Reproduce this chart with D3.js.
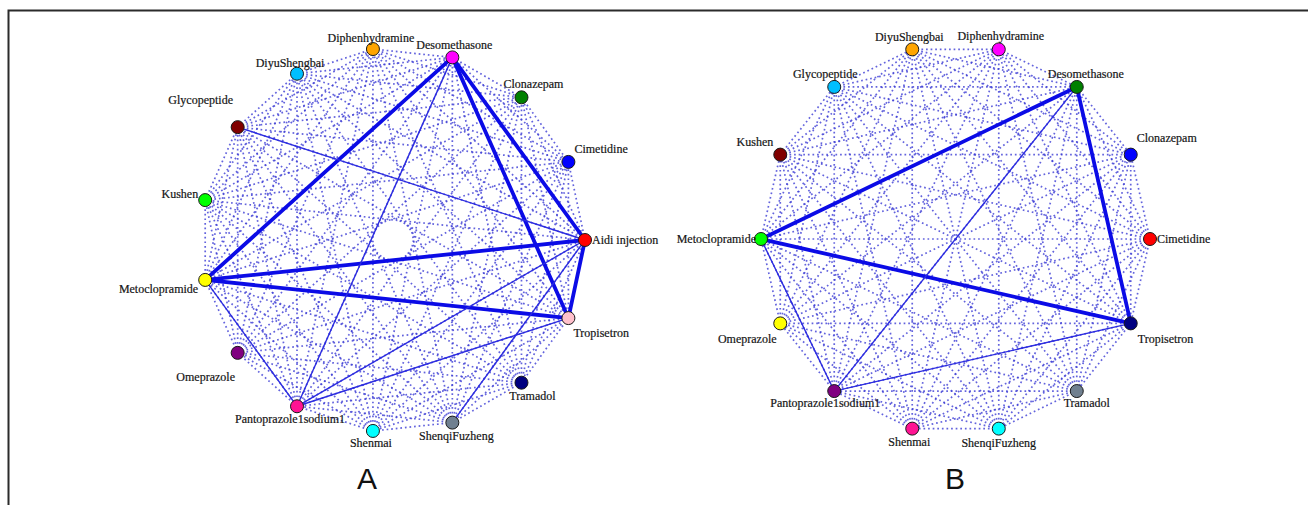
<!DOCTYPE html>
<html>
<head>
<meta charset="utf-8">
<script src="https://cdn.jsdelivr.net/npm/d3@7"></script>
<style>
  html, body { margin: 0; padding: 0; background: #fff; }
  svg { display: block; }
</style>
</head>
<body>
<svg id="chart" width="1308" height="505"></svg>
<script>
// ---------- Network A: drugs placed clockwise, starting at the right ----------
const nodesA = ["Aidi injection", "Tropisetron", "Tramadol", "ShenqiFuzheng", "Shenmai",
  "Pantoprazole1sodium1", "Omeprazole", "Metoclopramide", "Kushen", "Glycopeptide",
  "DiyuShengbai", "Diphenhydramine", "Desomethasone", "Clonazepam", "Cimetidine"];
const colorsA = ["#ff0000", "#ffc0cb", "#000080", "#708090", "#00ffff",
  "#ff1493", "#800080", "#ffff00", "#00ff00", "#800000",
  "#00bfff", "#ffa500", "#ff00ff", "#008000", "#0000ff"];
// strong associations: [drug, drug, weight]
const linksA = [
  ["Desomethasone", "Metoclopramide", 3],
  ["Desomethasone", "Aidi injection", 3],
  ["Desomethasone", "Tropisetron", 3],
  ["Metoclopramide", "Aidi injection", 3],
  ["Metoclopramide", "Tropisetron", 3],
  ["Aidi injection", "Tropisetron", 3],
  ["Desomethasone", "Pantoprazole1sodium1", 1],
  ["Glycopeptide", "Aidi injection", 1],
  ["Metoclopramide", "Pantoprazole1sodium1", 1],
  ["Pantoprazole1sodium1", "Aidi injection", 1],
  ["Pantoprazole1sodium1", "Tropisetron", 1],
  ["ShenqiFuzheng", "Aidi injection", 1]
];

// ---------- Network B ----------
const nodesB = ["Cimetidine", "Tropisetron", "Tramadol", "ShenqiFuzheng", "Shenmai",
  "Pantoprazole1sodium1", "Omeprazole", "Metoclopramide", "Kushen", "Glycopeptide",
  "DiyuShengbai", "Diphenhydramine", "Desomethasone", "Clonazepam"];
const colorsB = ["#ff0000", "#000080", "#708090", "#00ffff", "#ff1493",
  "#800080", "#ffff00", "#00ff00", "#800000", "#00bfff",
  "#ffa500", "#ff00ff", "#008000", "#0000ff"];
const linksB = [
  ["Desomethasone", "Metoclopramide", 3],
  ["Desomethasone", "Tropisetron", 3],
  ["Metoclopramide", "Tropisetron", 3],
  ["Desomethasone", "Pantoprazole1sodium1", 1],
  ["Metoclopramide", "Pantoprazole1sodium1", 1],
  ["Pantoprazole1sodium1", "Tropisetron", 1]
];

const panelTitles = ["A", "B"];

// ---------- layout ----------
// label placement relative to each node: [dx, dy, anchor]
const labelPlaceA = {
  "Aidi injection": [7, 4, "start"],
  "Tropisetron": [5, 19, "start"],
  "Tramadol": [11, 17, "middle"],
  "ShenqiFuzheng": [4, 17, "middle"],
  "Shenmai": [-2, 16, "middle"],
  "Pantoprazole1sodium1": [-7, 17, "middle"],
  "Omeprazole": [-32, 28, "middle"],
  "Metoclopramide": [-7, 13, "end"],
  "Kushen": [-7, -2, "end"],
  "Glycopeptide": [-37, -23, "middle"],
  "DiyuShengbai": [-7, -7, "middle"],
  "Diphenhydramine": [-2, -7, "middle"],
  "Desomethasone": [2, -8, "middle"],
  "Clonazepam": [12, -9, "middle"],
  "Cimetidine": [6, -9, "start"]
};
const labelPlaceB = {
  "Cimetidine": [7, 4, "start"],
  "Tropisetron": [7, 20, "start"],
  "Tramadol": [10, 16, "middle"],
  "ShenqiFuzheng": [0, 18, "middle"],
  "Shenmai": [-3, 17, "middle"],
  "Pantoprazole1sodium1": [-9, 16, "middle"],
  "Omeprazole": [-33, 20, "middle"],
  "Metoclopramide": [-5, 4, "end"],
  "Kushen": [-7, -9, "end"],
  "Glycopeptide": [-9, -9, "middle"],
  "DiyuShengbai": [-3, -8, "middle"],
  "Diphenhydramine": [2, -9, "middle"],
  "Desomethasone": [9, -9, "middle"],
  "Clonazepam": [6, -13, "start"]
};

const panels = [
  { nodes: nodesA, colors: colorsA, links: linksA, labels: labelPlaceA,
    cx: 393, cy: 240, r: 192, titleX: 367 },
  { nodes: nodesB, colors: colorsB, links: linksB, labels: labelPlaceB,
    cx: 955.5, cy: 239, r: 194.5, titleX: 955 }
];

const svg = d3.select("#chart");

// frame lines along the top and left
svg.append("path")
  .attr("d", "M8.5,505 L8.5,10.5 L1308,10.5")
  .attr("fill", "none")
  .attr("stroke", "#2b2b2b")
  .attr("stroke-width", 2);

const widthScale = d3.scaleLinear().domain([1, 3]).range([1.4, 3.8]);

panels.forEach((p, pi) => {
  const angle = d3.scaleBand().domain(p.nodes).range([0, 2 * Math.PI]);
  const color = d3.scaleOrdinal().domain(p.nodes).range(p.colors);
  const pos = {};
  p.nodes.forEach(n => {
    const a = angle(n);
    pos[n] = [p.cx + p.r * Math.cos(a), p.cy + p.r * Math.sin(a)];
  });

  const g = svg.append("g");

  // every pair is linked by a dotted line
  const pairs = [];
  p.nodes.forEach((a, i) => p.nodes.slice(i + 1).forEach(b => pairs.push([a, b])));
  g.append("g").selectAll("line").data(pairs).join("line")
    .attr("x1", d => pos[d[0]][0]).attr("y1", d => pos[d[0]][1])
    .attr("x2", d => pos[d[1]][0]).attr("y2", d => pos[d[1]][1])
    .attr("stroke", "#3c3cd4")
    .attr("stroke-opacity", 0.8)
    .attr("stroke-width", 1.7)
    .attr("stroke-dasharray", "1.7 2.9");

  // weighted associations as solid lines
  g.append("g").selectAll("line").data(p.links).join("line")
    .attr("x1", d => pos[d[0]][0]).attr("y1", d => pos[d[0]][1])
    .attr("x2", d => pos[d[1]][0]).attr("y2", d => pos[d[1]][1])
    .attr("stroke", d => d[2] > 1 ? "#0b0be6" : "#2c2ce0")
    .attr("stroke-width", d => widthScale(d[2]))
    .attr("stroke-linecap", "round");

  // drug nodes
  g.append("g").selectAll("circle").data(p.nodes).join("circle")
    .attr("cx", d => pos[d][0]).attr("cy", d => pos[d][1])
    .attr("r", 6.5)
    .attr("fill", d => color(d))
    .attr("stroke", "#1a1a1a")
    .attr("stroke-width", 1);

  // drug names
  g.append("g").selectAll("text").data(p.nodes).join("text")
    .attr("x", d => pos[d][0] + p.labels[d][0])
    .attr("y", d => pos[d][1] + p.labels[d][1])
    .attr("text-anchor", d => p.labels[d][2])
    .attr("font-family", "'Liberation Serif', 'Times New Roman', serif")
    .attr("font-size", 12)
    .attr("fill", "#141414")
    .attr("stroke", "#141414")
    .attr("stroke-width", 0.2)
    .text(d => d);

  // panel letter
  svg.append("text")
    .attr("x", p.titleX)
    .attr("y", 489)
    .attr("text-anchor", "middle")
    .attr("font-family", "'Liberation Sans', Arial, sans-serif")
    .attr("font-size", 30)
    .attr("fill", "#111")
    .text(panelTitles[pi]);
});
</script>
</body>
</html>
